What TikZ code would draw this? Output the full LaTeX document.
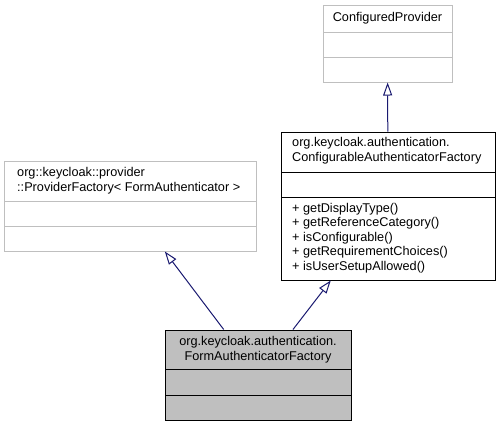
\documentclass[tikz,border=0pt]{standalone}
\usepackage{fontspec}
\setmainfont{Liberation Sans}
\usetikzlibrary{arrows.meta}
\definecolor{edgeblue}{HTML}{191970}
\definecolor{boxgrey}{HTML}{BFBFBF}
\begin{document}
\begin{tikzpicture}[x=1bp, y=-1bp,
  cls/.style={draw=black, line width=1bp, inner sep=0pt},
  extcls/.style={cls, draw=boxgrey},
  maincls/.style={cls, fill=boxgrey},
  txt/.style={inner sep=0pt, font=\fontsize{12.7bp}{14.5bp}\selectfont},
  inherit/.style={draw=edgeblue, line width=1bp,
    -{Triangle[open, length=13bp, width=9bp, fill=white]}}]
  \useasboundingbox (0, 0) rectangle (501, 427);

  % classes
  \node [extcls, minimum width=129bp, minimum height=77bp] (cp) at (387.5, 43.5) {};
  \node [txt] (cpt) at (387.5, 18) {ConfiguredProvider};
  \draw [boxgrey, line width=1bp] (323, 32) -- (452, 32);
  \draw [boxgrey, line width=1bp] (323, 57) -- (452, 57);

  \node [cls, minimum width=214bp, minimum height=148bp] (caf) at (388, 206) {};
  \node [txt, anchor=west, align=left] (caft) at (292, 150.5)
    {org.keycloak.authentication.\\ConfigurableAuthenticatorFactory};
  \draw [line width=1bp] (281, 172) -- (495, 172);
  \draw [line width=1bp] (281, 197) -- (495, 197);
  \node [txt, anchor=west, align=left] (cafm) at (292, 238)
    {+ getDisplayType()\\+ getReferenceCategory()\\+ isConfigurable()\\%
     + getRequirementChoices()\\+ isUserSetupAllowed()};

  \node [extcls, minimum width=251bp, minimum height=90bp] (pf) at (130.5, 206) {};
  \node [txt, anchor=west, align=left] (pft) at (17, 180.5)
    {org::keycloak::provider\\::ProviderFactory< FormAuthenticator >};
  \draw [boxgrey, line width=1bp] (5, 201) -- (256, 201);
  \draw [boxgrey, line width=1bp] (5, 226) -- (256, 226);

  \node [maincls, minimum width=186bp, minimum height=90bp] (fa) at (258, 375) {};
  \node [txt, align=center] (fat) at (258, 349.5)
    {org.keycloak.authentication.\\FormAuthenticatorFactory};
  \draw [line width=1bp] (165, 369) -- (351, 369);
  \draw [line width=1bp] (165, 395) -- (351, 395);

  % inheritance
  \draw [inherit] (caf) -- (cp);
  \draw [inherit] (fa) -- (pf);
  \draw [inherit] (fa) -- (caf);
\end{tikzpicture}
\end{document}
